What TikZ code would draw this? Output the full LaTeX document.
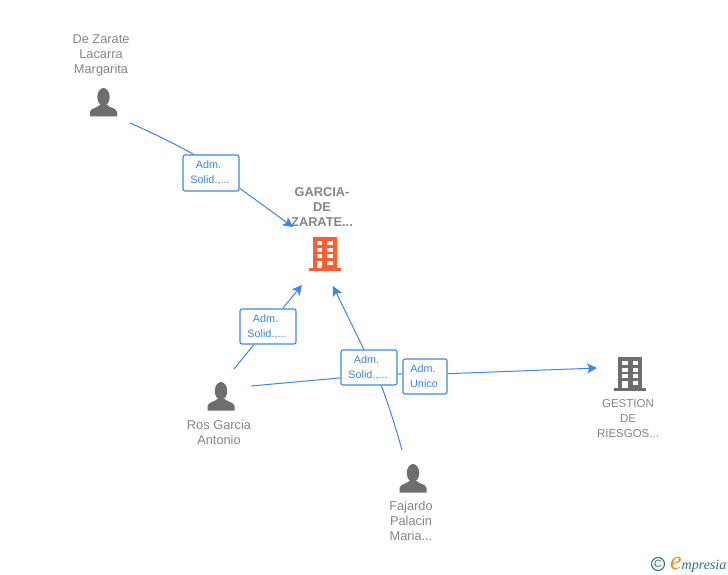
\documentclass[tikz,border=0pt]{standalone}
\usepackage{fontspec}
\setmainfont{Liberation Sans}
\newfontfamily\logofont{Liberation Serif}
\usetikzlibrary{arrows.meta}
\definecolor{linkblue}{HTML}{3F86E4}
\definecolor{namegray}{HTML}{858585}
\definecolor{icongray}{HTML}{6E6E6E}
\definecolor{mainorange}{HTML}{FF5F2E}
\definecolor{logoteal}{HTML}{2F6F8F}
\definecolor{logoorange}{HTML}{F28A1E}
\tikzset{
  link/.style={draw=linkblue,line width=1pt},
  linkarrow/.style={link,-{Stealth[length=10pt,width=10pt,inset=2.5pt]}},
  rolebox/.style={draw=linkblue,line width=1.1pt,rounded corners=2pt,fill=white,inner sep=0pt,
    text=linkblue,align=center,font=\fontsize{10.8}{15}\selectfont},
  namelabel/.style={text=namegray,align=center,inner sep=0pt,font=\fontsize{12.8}{15}\selectfont},
  person/.pic={
    \fill[icongray] (0,-6) ellipse (6.2 and 9);
    \fill[icongray] (-13.5,13.5) -- (-13.5,9) .. controls (-13,5) and (-6,5) .. (-3,1.5) -- (3,1.5)
      .. controls (6,5) and (13,5) .. (13.5,9) -- (13.5,13.5) -- cycle;
  },
  building/.pic={
    \fill[pic actions] (-12,-31) rectangle (12,0);
    \fill[pic actions] (-16,0) rectangle (16,2.5);
    % windows, two columns
    \foreach \y in {-27,-20.5,-14}
      \foreach \x in {-8,2.5}
        \fill[white] (\x,\y) rectangle ++(5.5,4);
    \fill[white] (-8,-7.5) rectangle (-2.5,0);
    \fill[white] (2.5,-7.5) rectangle (8,-3.5);
  },
}
\begin{document}
\begin{tikzpicture}[x=1pt,y=-1pt]
\useasboundingbox (0,0) rectangle (728,575);
% Names and icons
\node[namelabel] (dezarate) at (101,55) {De Zarate\\Lacarra\\Margarita};
\pic at (103.5,103) {person};
\node[namelabel,font=\fontsize{12.8}{15}\selectfont\bfseries] (garcia) at (322,207) {GARCIA-\\DE\\ZARATE...};
\pic[fill=mainorange] at (324.5,268) {building};
\pic at (221,397) {person};
\node[namelabel] (ros) at (219,432.5) {Ros Garcia\\Antonio};
\pic at (413,479) {person};
\node[namelabel] (fajardo) at (411,521) {Fajardo\\Palacin\\Maria...};
\pic[fill=icongray] at (630,388) {building};
\node[namelabel,font=\fontsize{11.5}{15}\selectfont] (gestion) at (628,418.5) {GESTION\\DE\\RIESGOS...};
% Role boxes
\node[rolebox,minimum width=56pt,minimum height=36pt] (adm1) at (211,173) {\hspace*{-5pt}Adm.\\\hspace*{-2pt}Solid.,...};
\node[rolebox,minimum width=56pt,minimum height=35pt] (adm2) at (268,326.5) {\hspace*{-5pt}Adm.\\\hspace*{-2pt}Solid.,...};
\node[rolebox,minimum width=56pt,minimum height=35pt] (adm3) at (369,367.5) {\hspace*{-5pt}Adm.\\\hspace*{-2pt}Solid.,...};
\node[rolebox,minimum width=44pt,minimum height=35pt] (adm4) at (425,376.5) {\hspace*{-4pt}Adm.\\\hspace*{-2pt}Unico};
% Free ends next to the icons
\coordinate (dezarateout) at (130,123);
\coordinate (garciain1) at (293,227);
\coordinate (garciain2) at (302,285);
\coordinate (garciain3) at (333,286);
\coordinate (rosout1) at (234,369);
\coordinate (rosout2) at (251,386);
\coordinate (fajardoout) at (402,450);
\coordinate (gestionin) at (597,368);
% Connectors
\draw[link] (dezarateout) .. controls (155,134) and (175,144) .. (adm1.133);
\draw[linkarrow] (adm1.-28) -- (garciain1);
\draw[link] (rosout1) -- (adm2.-128);
\draw[linkarrow] (adm2.51) -- (garciain2);
\draw[link] (rosout2) -- (adm3.200);
\draw[link] (fajardoout) .. controls (395,425) and (388,403) .. (adm3.-56);
\draw[linkarrow] (adm3.106) -- (garciain3);
\draw[link] (adm3.-13) -- (adm4.173);
\draw[linkarrow] (adm4.7) -- (gestionin);
% Logo
\node[circle,draw=logoteal,line width=1.1pt,text=logoteal,inner sep=0pt,minimum size=13pt,
  font=\fontsize{10.5}{10}\selectfont] (copyright) at (658,564) {C};
\node[anchor=base west,inner sep=0pt,text=logoteal,font=\logofont\itshape\fontsize{14}{14}\selectfont] (logo) at (670,569)
  {\textcolor{logoorange}{\fontsize{26}{26}\selectfont e}mpresia};
\end{tikzpicture}
\end{document}
